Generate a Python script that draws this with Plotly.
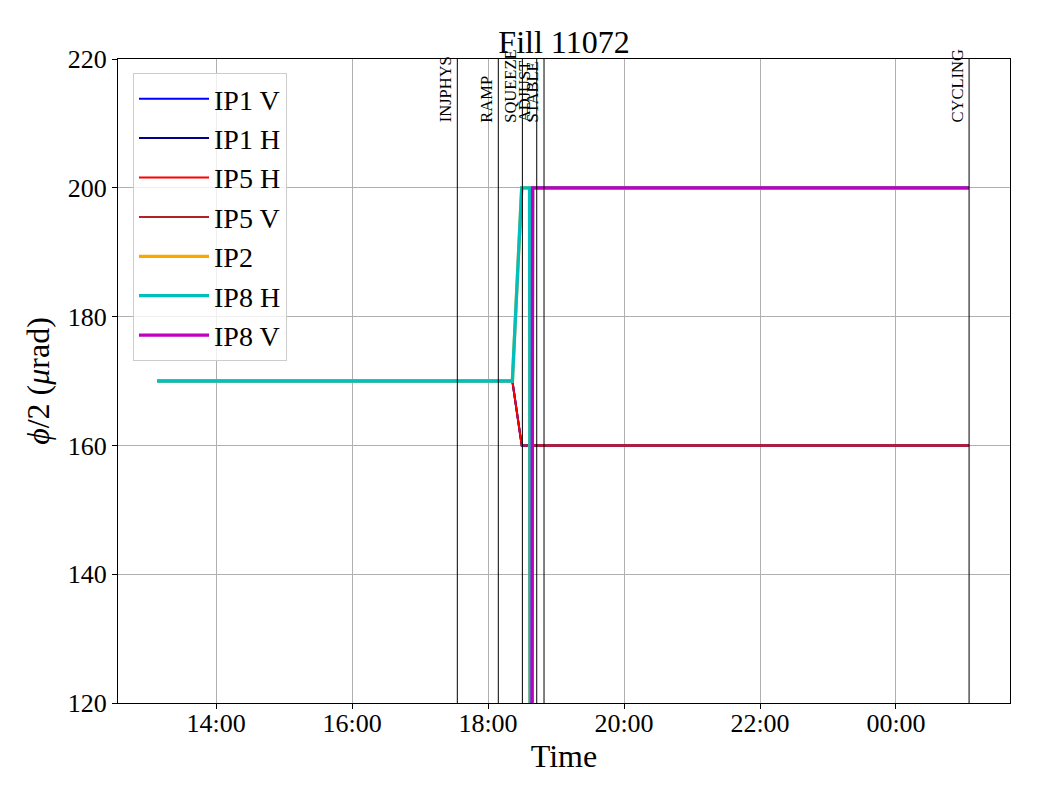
import plotly.graph_objects as go

# ---- data ----
times = ["2025-08-10 13:08:00", "2025-08-10 18:21:30", "2025-08-10 18:29:45",
         "2025-08-10 18:36:40", "2025-08-10 18:38:00", "2025-08-10 18:39:20",
         "2025-08-11 01:04:30"]
ip1_v = [170, 170, 160, 160, 0, 160, 160]
ip1_h = [170, 170, 160, 160, 0, 160, 160]
ip5_h = [170, 170, 160, 160, 0, 160, 160]
ip5_v = [None, None, None, None, 0, 160, 160]
ip2 = [170, 170, 200, 200, 0, 200, 200]
ip8_h = [170, 170, 200, 200, 0, 200, 200]
ip8_v = [None, None, None, None, 0, 200, 200]

modes = ["INJPHYS", "RAMP", "SQUEEZE", "ADJUST", "STABLE", "CYCLING"]
mode_times = ["2025-08-10 17:32:55", "2025-08-10 18:09:05", "2025-08-10 18:30:20",
              "2025-08-10 18:43:00", "2025-08-10 18:49:25", "2025-08-11 01:04:30"]
label_y = 210

series = [
    ("IP1 V", ip1_v, "#0000ff", 2),
    ("IP1 H", ip1_h, "#00008b", 2),
    ("IP5 H", ip5_h, "#ff0000", 2),
    ("IP5 V", ip5_v, "#b22222", 2),
    ("IP2", ip2, "#ffa500", 3.3),
    ("IP8 H", ip8_h, "#00bfbf", 3.3),
    ("IP8 V", ip8_v, "#bf00bf", 3.3),
]

FONT = "Liberation Serif"
fig = go.Figure()
for i, (name, vals, col, w) in enumerate(series):
    fig.add_trace(go.Scatter(x=times, y=vals, name=name, mode="lines",
                             line=dict(color=col, width=w),
                             legendgroup=f"g{i}", connectgaps=False))

for m, t in zip(modes, mode_times):
    fig.add_shape(type="line", xref="x", yref="paper", x0=t, x1=t, y0=0, y1=1,
                  line=dict(color="black", width=1))
    fig.add_annotation(x=t, y=label_y, xref="x", yref="y", text=m, textangle=-90,
                       showarrow=False, xanchor="right", yanchor="bottom",
                       font=dict(family=FONT, size=16.5, color="black"),
                       borderpad=0, xshift=-1)

fig.update_layout(
    width=1040, height=800,
    margin=dict(l=110, r=38, t=51, b=105),
    paper_bgcolor="white", plot_bgcolor="white",
    font=dict(family=FONT, size=26, color="black"),
    title=dict(text="Fill 11072", x=0.5, xref="paper", xanchor="center",
               y=1 - 34 / 800, yanchor="middle", yref="container",
               font=dict(family=FONT, size=32, color="black")),
    legend=dict(x=(133 - 118) / 892, y=1 - (73 - 59) / 644, xanchor="left", yanchor="top",
                bgcolor="rgba(255,255,255,0.8)", bordercolor="#cccccc", borderwidth=1,
                font=dict(family=FONT, size=28, color="black"), tracegroupgap=0,
                itemwidth=70),
    showlegend=True,
)
fig.update_xaxes(range=["2025-08-10 12:33:30", "2025-08-11 01:40:36"],
                 tickformat="%H:%M", dtick=2 * 3600 * 1000,
                 tick0="2025-08-10 00:00:00",
                 showgrid=True, gridcolor="#b0b0b0", gridwidth=1,
                 showline=True, linecolor="black", linewidth=1, mirror=True,
                 ticks="outside", ticklen=5, tickcolor="black",
                 tickfont=dict(family=FONT, size=26), ticklabelstandoff=-8,
                 title=dict(text="Time", font=dict(family=FONT, size=32), standoff=0),
                 zeroline=False)
fig.update_yaxes(range=[120, 220], dtick=20,
                 showgrid=True, gridcolor="#b0b0b0", gridwidth=1,
                 showline=True, linecolor="black", linewidth=1, mirror=True,
                 ticks="outside", ticklen=5, tickcolor="black",
                 tickfont=dict(family=FONT, size=26),
                 title=dict(text="<i>ϕ</i>/2 (<i>μ</i>rad)", font=dict(family=FONT, size=32),
                            standoff=8),
                 zeroline=False)

fig.write_html("out.html")
